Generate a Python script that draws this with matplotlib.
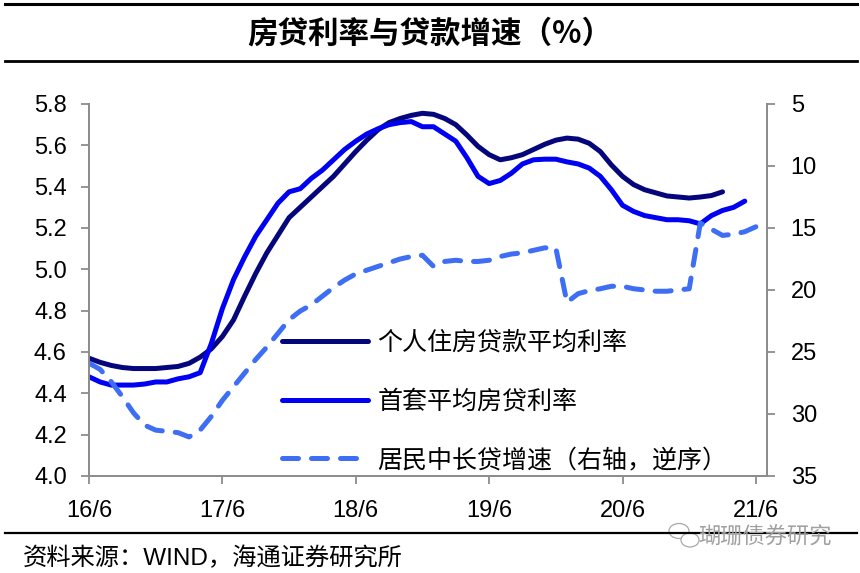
import numpy as np
import matplotlib.pyplot as plt
from matplotlib.lines import Line2D
from matplotlib.patches import Ellipse
from matplotlib.ticker import FormatStrFormatter

plt.rcParams['font.family'] = ['Liberation Sans', 'Noto Sans CJK SC', 'DejaVu Sans']

# months counted from 2016-06
m_personal = np.arange(0, 58)
personal_rate = [4.57, 4.55, 4.535, 4.525, 4.52, 4.52, 4.52, 4.525, 4.53, 4.545,
                 4.575, 4.615, 4.675, 4.755, 4.87, 4.98, 5.08, 5.165, 5.25, 5.30,
                 5.35, 5.40, 5.45, 5.51, 5.57, 5.625, 5.675, 5.71, 5.73, 5.745,
                 5.755, 5.75, 5.73, 5.70, 5.65, 5.595, 5.555, 5.53, 5.54, 5.555,
                 5.58, 5.605, 5.625, 5.635, 5.63, 5.61, 5.57, 5.505, 5.45, 5.41,
                 5.385, 5.37, 5.355, 5.35, 5.345, 5.35, 5.357, 5.375]

m_first = np.arange(0, 60)
first_home_rate = [4.48, 4.455, 4.44, 4.44, 4.44, 4.445, 4.455, 4.455, 4.47, 4.48,
                   4.50, 4.64, 4.81, 4.95, 5.06, 5.16, 5.24, 5.32, 5.375, 5.39,
                   5.44, 5.48, 5.53, 5.58, 5.62, 5.655, 5.68, 5.70, 5.71, 5.715,
                   5.69, 5.69, 5.655, 5.62, 5.54, 5.45, 5.415, 5.43, 5.465, 5.51,
                   5.53, 5.533, 5.533, 5.52, 5.51, 5.49, 5.45, 5.385, 5.31, 5.28,
                   5.26, 5.25, 5.24, 5.24, 5.235, 5.22, 5.26, 5.285, 5.30, 5.33]

m_loan = np.arange(0, 61)
loan_growth = [25.9, 26.4, 27.4, 28.6, 29.9, 30.9, 31.3, 31.4, 31.5, 31.85,
               31.3, 30.2, 28.9, 27.8, 26.7, 25.6, 24.6, 23.5, 22.4, 21.7,
               21.2, 20.5, 19.8, 19.2, 18.7, 18.4, 18.1, 17.8, 17.5, 17.3,
               17.2, 18.1, 17.7, 17.6, 17.7, 17.7, 17.6, 17.3, 17.1, 17.0,
               16.8, 16.6, 16.6, 21.0, 20.3, 20.05, 19.9, 19.7, 19.7, 19.9,
               20.0, 20.1, 20.1, 20.0, 19.9, 14.6, 15.1, 15.6, 15.5, 15.3, 14.9]

tick_pos = [0, 12, 24, 36, 48, 60]
tick_labels = ['16/6', '17/6', '18/6', '19/6', '20/6', '21/6']
series_names = ['个人住房贷款平均利率', '首套平均房贷利率', '居民中长贷增速（右轴，逆序）']

c_navy = '#06067c'
c_blue = '#0000f2'
c_dash = '#3e6ef4'
c_axis = '#8c8c8c'

fig = plt.figure(figsize=(8.6, 5.73), dpi=100)
ax = fig.add_axes([89/860, 1-476/573, (767-89)/860, (476-104)/573])
ax2 = ax.twinx()

l1, = ax.plot(m_personal, personal_rate, color=c_navy, lw=3.6, solid_capstyle='round')
l2, = ax.plot(m_first, first_home_rate, color=c_blue, lw=3.6, solid_capstyle='round')
l3, = ax2.plot(m_loan, loan_growth, color=c_dash, lw=3.6, dashes=(3.2, 2.6),
               dash_capstyle='round')

ax.set_xlim(0, 61)
ax.set_ylim(4.0, 5.8)
ax.set_yticks(np.arange(4.0, 5.81, 0.2))
ax.yaxis.set_major_formatter(FormatStrFormatter('%.1f'))
ax.set_xticks(tick_pos)
ax.set_xticklabels(tick_labels)
ax2.set_ylim(35, 5)
ax2.set_yticks([5, 10, 15, 20, 25, 30, 35])

for a in (ax, ax2):
    a.spines['top'].set_visible(False)
    for s in ('left', 'right', 'bottom'):
        a.spines[s].set_color(c_axis)
        a.spines[s].set_linewidth(1.3)
    a.tick_params(colors=c_axis, width=1.3, length=6, labelcolor='black',
                  labelsize=17)
ax.tick_params(axis='x', pad=11)
ax.tick_params(axis='y', pad=10)
ax2.tick_params(axis='y', pad=11)

leg = ax2.legend([l1, l2, l3], series_names, loc='upper left',
                 bbox_to_anchor=(282/860, 1-330/573), bbox_transform=fig.transFigure,
                 frameon=False, handlelength=3.45, handletextpad=0.36,
                 labelspacing=1.3, borderpad=0, borderaxespad=0,
                 prop={'family': ['Noto Sans CJK SC'], 'size': 18})

# title and rules
fig.text(0.5, 1-34/573, '房贷利率与贷款增速（%）', ha='center', va='center',
         fontsize=22, fontweight='bold', family=['Noto Sans CJK SC'])
for y, w in ((4, 2.2), (61, 2.0), (533, 1.6)):
    fig.add_artist(Line2D([5/860, 857/860], [1-y/573, 1-y/573], color='black',
                          lw=w, transform=fig.transFigure))

fig.text(23/860, 1-558/573, '资料来源：WIND，海通证券研究所', ha='left', va='center',
         fontsize=17.5)

# watermark with a small chat-bubble icon
fig.text(832/860, 1-537/573, '瑚珊债券研究', ha='right', va='center',
         fontsize=16, color='#a0a0a0', family=['Noto Sans CJK SC'])
for cx, cy, w, h in ((679, 531, 20, 15), (690, 540, 18, 14)):
    fig.add_artist(Ellipse((cx/860, 1-cy/573), w/860, h/573, fill=True,
                           facecolor='white', edgecolor='#a8a8a8', lw=0.9,
                           transform=fig.transFigure))

fig.savefig('out.png', dpi=100)
